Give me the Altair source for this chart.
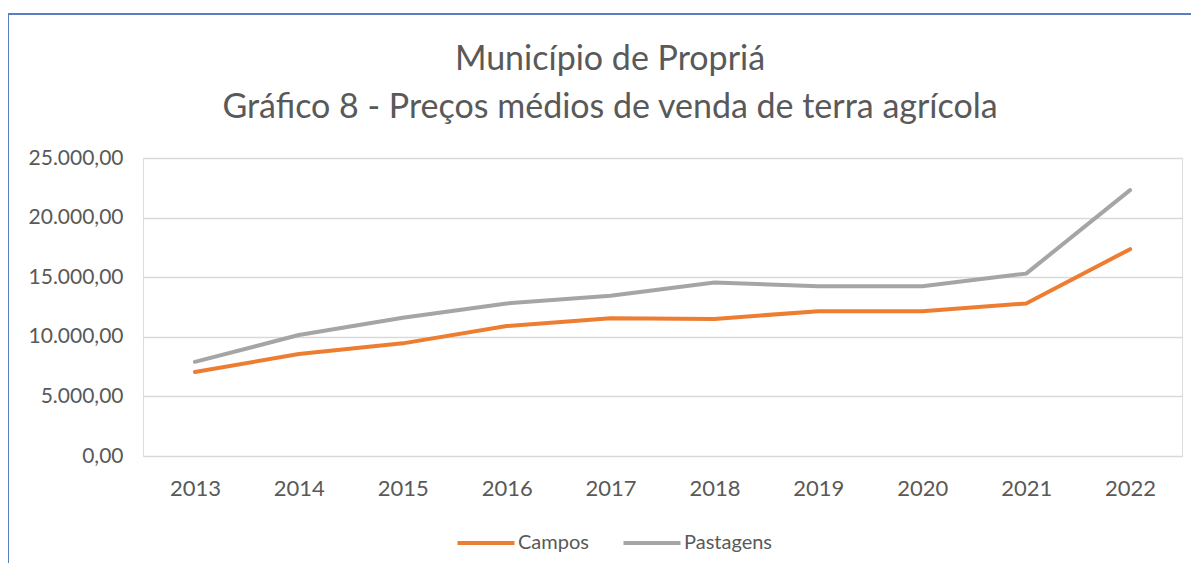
import altair as alt
import pandas as pd

years = ["2013", "2014", "2015", "2016", "2017", "2018", "2019", "2020", "2021", "2022"]
campos = [7050, 8550, 9450, 10900, 11550, 11500, 12150, 12150, 12800, 17350]
pastagens = [7900, 10150, 11600, 12800, 13450, 14550, 14250, 14250, 15300, 22300]
series_names = ["Campos", "Pastagens"]
series_colors = ["#ED7D31", "#A5A5A5"]
y_ticks = [0, 5000, 10000, 15000, 20000, 25000]
title_lines = ["Município de Propriá", "Gráfico 8 - Preços médios de venda de terra agrícola"]

rows = []
for i, y in enumerate(years):
    rows.append({"ano": y, "serie": "Campos", "valor": campos[i]})
    rows.append({"ano": y, "serie": "Pastagens", "valor": pastagens[i]})
df = pd.DataFrame(rows)

FONT = "Lato"
TXT = "#595959"

lines = alt.Chart(df).mark_line(strokeWidth=4, strokeCap="round", strokeJoin="round").encode(
    x=alt.X("ano:O", sort=years,
            scale=alt.Scale(type="point", padding=0.5),
            axis=alt.Axis(title=None, labelAngle=0, ticks=False, domain=True, domainColor="#D9D9D9",
                          labelPadding=22, labelFontSize=22, labelColor=TXT, labelFont=FONT, grid=False)),
    y=alt.Y("valor:Q", scale=alt.Scale(domain=[0, 25000], nice=False),
            axis=alt.Axis(title=None, values=y_ticks, ticks=False, domain=False,
                          gridColor="#D9D9D9", gridWidth=1.3, labelPadding=20,
                          labelFontSize=21, labelColor=TXT, labelFont=FONT,
                          labelExpr="replace(replace(replace(format(datum.value, ',.2f'), ',', '_'), '.', ','), '_', '.')")),
    color=alt.Color("serie:N", scale=alt.Scale(domain=series_names, range=series_colors),
                    legend=alt.Legend(title=None, orient="none", legendX=312, legendY=354,
                                      direction="horizontal", symbolType="stroke",
                                      symbolStrokeWidth=4, symbolSize=3250,
                                      labelFontSize=20, labelColor=TXT, labelFont=FONT,
                                      columnPadding=26, labelOffset=1)),
)

one = pd.DataFrame({"k": [0]})

border = alt.Chart(one).mark_rect(
    fill=None, stroke="#5A7FC0", strokeWidth=2, clip=False
).encode(
    x=alt.value(-135), x2=alt.value(1200), y=alt.value(-144), y2=alt.value(460)
)

t1 = alt.Chart(one).mark_text(
    text=title_lines[0], font=FONT, fontSize=34, color=TXT, align="center", baseline="middle"
).encode(x=alt.value(467), y=alt.value(-98))

t2 = alt.Chart(one).mark_text(
    text=title_lines[1], font=FONT, fontSize=34, color=TXT, align="center", baseline="middle"
).encode(x=alt.value(467), y=alt.value(-50))

chart = alt.layer(border, t1, t2, lines).properties(
    width=1039, height=298,
    autosize=alt.AutoSizeParams(type="none"),
    padding={"left": 135, "top": 150, "right": 9, "bottom": 107},
).configure_view(stroke=None).configure(background="white")

chart.save("out.html", embed_options={"renderer": "svg", "actions": False})
